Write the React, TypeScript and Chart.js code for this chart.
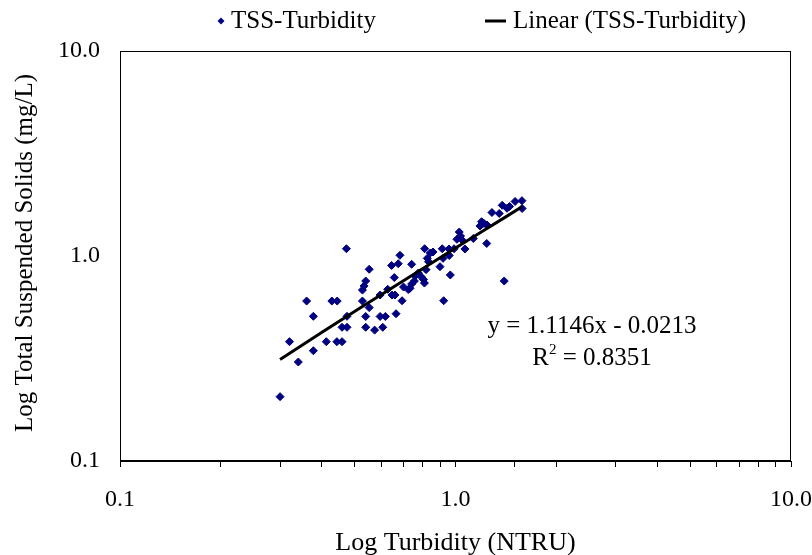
import React, { useEffect, useRef } from "react";
import { Chart, registerables } from "chart.js";

Chart.register(...registerables);

// Observed data (log-log scatter): turbidity (NTRU) vs TSS (mg/L)
const turbidity = [
  0.300, 0.320, 0.340, 0.360, 0.377, 0.377, 0.412, 0.428, 0.444, 0.443,
  0.459, 0.459, 0.475, 0.475, 0.473, 0.528, 0.528, 0.534, 0.540, 0.553,
  0.553, 0.540, 0.540, 0.574, 0.596, 0.618, 0.607, 0.596, 0.628, 0.647,
  0.660, 0.645, 0.657, 0.665, 0.675, 0.683, 0.693, 0.700, 0.723, 0.740,
  0.740, 0.754, 0.775, 0.789, 0.808, 0.809, 0.817, 0.824, 0.831, 0.841,
  0.857, 0.899, 0.913, 0.918, 0.922, 0.956, 0.958, 0.965, 0.990, 1.010,
  1.026, 1.035, 1.046, 1.067, 1.130, 1.183, 1.196, 1.216, 1.241, 1.239,
  1.284, 1.350, 1.378, 1.397, 1.424, 1.449, 1.505, 1.578, 1.580, 0.803,
  0.758, 0.732,
];
const tss = [
  0.206, 0.382, 0.304, 0.603, 0.508, 0.345, 0.382, 0.603, 0.603, 0.382,
  0.382, 0.449, 0.449, 0.508, 1.085, 0.603, 0.682, 0.714, 0.755, 0.861,
  0.560, 0.507, 0.449, 0.435, 0.507, 0.507, 0.449, 0.645, 0.688, 0.645,
  0.645, 0.899, 0.785, 0.523, 0.917, 1.008, 0.605, 0.706, 0.686, 0.911,
  0.730, 0.755, 0.826, 0.794, 0.738, 1.085, 0.858, 0.974, 0.938, 1.034,
  1.046, 0.887, 1.085, 0.974, 0.605, 1.082, 1.006, 0.808, 1.085, 1.206,
  1.309, 1.252, 1.197, 1.082, 1.217, 1.401, 1.470, 1.441, 1.417, 1.151,
  1.630, 1.612, 1.767, 0.755, 1.709, 1.744, 1.845, 1.861, 1.705, 0.768,
  0.799, 0.696,
];

// Linear trendline
const trendX = [0.30, 0.40, 0.50, 0.60, 0.80, 1.00, 1.20, 1.40, 1.578];
const trendY = [0.313, 0.425, 0.536, 0.647, 0.870, 1.093, 1.316, 1.539, 1.737];

const seriesLabel = "TSS-Turbidity";
const trendLabel = "Linear (TSS-Turbidity)";
const xTitle = "Log Turbidity (NTRU)";
const yTitle = "Log Total Suspended Solids (mg/L)";
const equationText = "y = 1.1146x - 0.0213";
const r2Text = "0.8351";
const axisMin = 0.1;
const axisMax = 10;

const FONT = '"Liberation Serif", "Times New Roman", serif';
const FS = 24;
const FS_TEXT = 25;
const FS_XTITLE = 26;
const NAVY = "#000080";

function isMajor(v: number) {
  const l = Math.log10(v);
  return Math.abs(l - Math.round(l)) < 1e-6;
}

const overlay = {
  id: "overlay",
  beforeDraw(chart: any) {
    const ctx = chart.ctx;
    ctx.save();
    ctx.fillStyle = "#fff";
    ctx.fillRect(0, 0, chart.width, chart.height);
    ctx.restore();
  },
  afterDraw(chart: any) {
    const ctx = chart.ctx as CanvasRenderingContext2D;
    const a = chart.chartArea;
    ctx.save();
    // plot frame
    ctx.strokeStyle = "#000";
    ctx.lineWidth = 1;
    ctx.strokeRect(Math.round(a.left) + 0.5, Math.round(a.top) + 0.5, Math.round(a.right - a.left) - 1, Math.round(a.bottom - a.top) - 1);

    ctx.fillStyle = "#000";
    ctx.font = `${FS_TEXT}px ${FONT}`;
    ctx.textBaseline = "middle";

    // legend
    const ly = 21;
    ctx.fillStyle = NAVY;
    ctx.beginPath();
    ctx.moveTo(221, ly - 3.5);
    ctx.lineTo(224.5, ly);
    ctx.lineTo(221, ly + 3.5);
    ctx.lineTo(217.5, ly);
    ctx.closePath();
    ctx.fill();
    ctx.fillStyle = "#000";
    ctx.textAlign = "left";
    ctx.fillText(seriesLabel, 231, ly);
    ctx.fillRect(485, ly - 1.5, 21, 3);
    ctx.fillText(trendLabel, 513, ly);

    // axis titles
    ctx.textAlign = "center";
    ctx.font = `${FS_XTITLE}px ${FONT}`;
    ctx.fillText(xTitle, (a.left + a.right) / 2, 543);
    ctx.font = `${FS_TEXT}px ${FONT}`;
    ctx.save();
    ctx.translate(25, 253);
    ctx.rotate(-Math.PI / 2);
    ctx.fillText(yTitle, 0, 0);
    ctx.restore();

    // equation
    ctx.textAlign = "center";
    ctx.fillText(equationText, 592, 326);
    const rest = " = " + r2Text;
    const wR = ctx.measureText("R").width;
    const wRest = ctx.measureText(rest).width;
    const fsSup = Math.round(FS_TEXT * 0.6);
    ctx.font = `${fsSup}px ${FONT}`;
    const w2 = ctx.measureText("2").width;
    const total = wR + w2 + wRest;
    const x0 = 592 - total / 2;
    ctx.font = `${FS_TEXT}px ${FONT}`;
    ctx.textAlign = "left";
    ctx.fillText("R", x0, 358);
    ctx.font = `${fsSup}px ${FONT}`;
    ctx.fillText("2", x0 + wR, 350);
    ctx.font = `${FS_TEXT}px ${FONT}`;
    ctx.fillText(rest, x0 + wR + w2, 358);
    ctx.restore();
  },
};

export default function App() {
  const ref = useRef<HTMLCanvasElement>(null);
  useEffect(() => {
    const canvas = ref.current!;
    const chart = new Chart(canvas, {
      type: "scatter",
      data: {
        datasets: [
          {
            label: trendLabel,
            data: trendX.map((x, i) => ({ x, y: trendY[i] })),
            showLine: true,
            borderColor: "#000",
            backgroundColor: "#000",
            borderWidth: 3,
            pointRadius: 0,
            fill: false,
            order: 0,
          } as any,
          {
            label: seriesLabel,
            data: turbidity.map((x, i) => ({ x, y: tss[i] })),
            pointStyle: "rectRot",
            pointRadius: 4,
            backgroundColor: NAVY,
            borderColor: NAVY,
            borderWidth: 1,
            order: 1,
          } as any,
        ],
      },
      options: {
        responsive: false,
        animation: false,
        devicePixelRatio: 1,
        layout: { padding: { left: 0, right: 21, top: 51, bottom: 0 } },
        plugins: { legend: { display: false }, tooltip: { enabled: false } },
        scales: {
          x: {
            type: "logarithmic",
            min: axisMin,
            max: axisMax,
            border: { display: true, color: "#000", width: 1 },
            grid: { display: true, drawOnChartArea: false, drawTicks: true, tickLength: 6, color: "#000", lineWidth: 1 },
            ticks: {
              autoSkip: false,
              maxRotation: 0,
              minRotation: 0,
              padding: 18,
              color: "#000",
              font: { family: FONT, size: FS },
              callback: (v: any) => (isMajor(Number(v)) ? Number(v).toFixed(1) : ""),
            },
            afterFit: (s: any) => {
              s.height = 94;
              s.paddingLeft = 0;
              s.paddingRight = 0;
            },
          },
          y: {
            type: "logarithmic",
            min: axisMin,
            max: axisMax,
            border: { display: true, color: "#000", width: 1 },
            grid: { display: true, drawOnChartArea: false, drawTicks: false, color: "#000" },
            ticks: {
              autoSkip: false,
              padding: 20,
              color: "#000",
              font: { family: FONT, size: FS },
              callback: (v: any) => (isMajor(Number(v)) ? Number(v).toFixed(1) : null),
            },
            afterFit: (s: any) => {
              s.width = 120;
              s.paddingTop = 0;
              s.paddingBottom = 0;
            },
          },
        },
      } as any,
      plugins: [overlay],
    });
    return () => chart.destroy();
  }, []);
  return (
    <div style={{ position: "absolute", left: 0, top: 0, width: 812, height: 555, background: "#fff" }}>
      <canvas ref={ref} width={812} height={555} style={{ display: "block" }} />
    </div>
  );
}
